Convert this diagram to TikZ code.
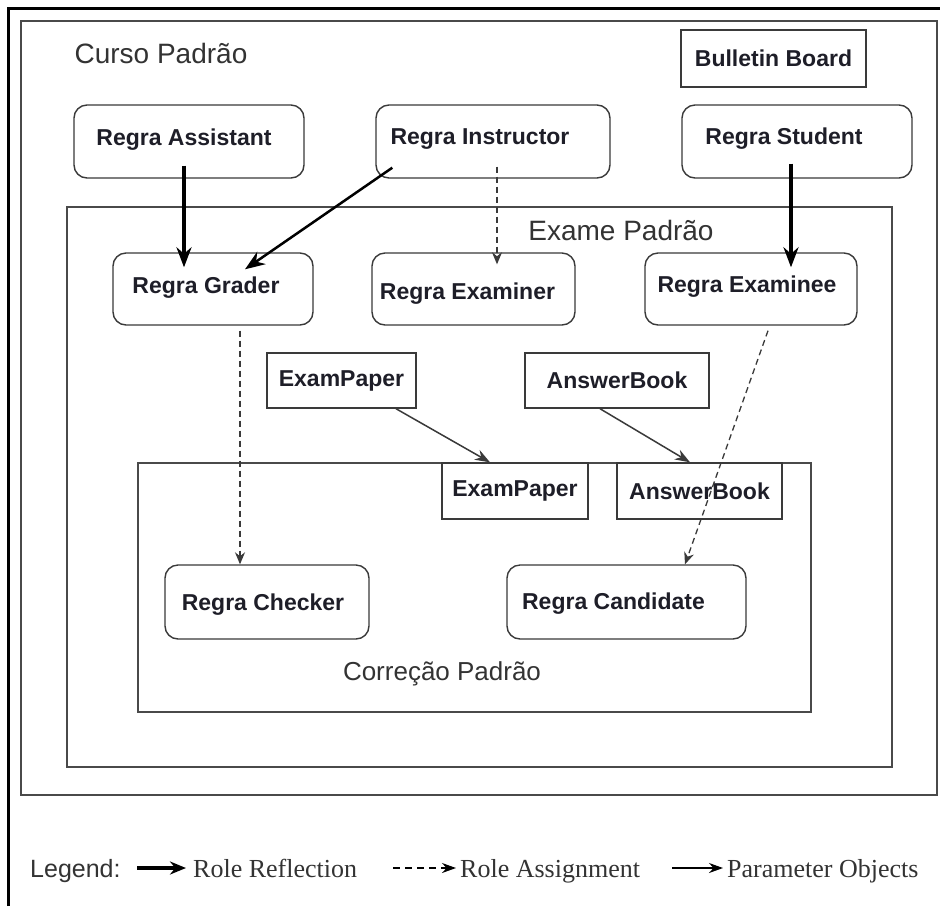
\documentclass[tikz,border=0pt]{standalone}
\usepackage{fontspec}
\setmainfont{Liberation Serif}
\setsansfont{Liberation Sans}
\usetikzlibrary{arrows.meta,calc}
\definecolor{boxc}{HTML}{3A3A3A}
\definecolor{framec}{HTML}{4A4A4A}
\definecolor{txt}{HTML}{1E1E28}
\definecolor{ltxt}{HTML}{333333}
\begin{document}
\begin{tikzpicture}[x=1pt,y=-1pt,
  rbox/.style={draw=boxc, line width=1.4pt, rounded corners=13pt, inner sep=0pt},
  sbox/.style={draw=boxc, line width=1.4pt, inner sep=0pt, font=\sffamily\bfseries\fontsize{23}{25}\selectfont, text=txt},
  lbl/.style={font=\sffamily\bfseries\fontsize{23}{25}\selectfont, text=txt},
  frame/.style={draw=framec, line width=1.6pt},
  flbl/.style={font=\sffamily\fontsize{28}{30}\selectfont, text=ltxt},
  reflect/.style={line width=3.5pt, -{Stealth[length=20pt,width=15pt]}},
  assign/.style={draw=boxc, line width=1.3pt, dash pattern=on 6pt off 4pt, -{Stealth[length=12pt,width=10pt]}},
  param/.style={draw=boxc, line width=1.5pt, -{Stealth[length=15pt,width=11pt]}},
  legtxt/.style={font=\fontsize{26}{28}\selectfont, text=ltxt, anchor=base west, inner sep=0pt}
]
\useasboundingbox (0,0) rectangle (940,906);
\fill[white] (0,0) rectangle (940,906);

% outer frame (top and left)
\draw[line width=3pt] (8,906) -- (8,8) -- (940,8);

% containers
\draw[frame] (21,21) rectangle (937,795);
\draw[frame] (67,207) rectangle (892,767);
\draw[frame] (138,463) rectangle (811,712);

\node[flbl] (curso) at (161,53) {Curso Padrão};
\node[flbl] (exame) at (621,230) {Exame Padrão};
\node[flbl, font=\sffamily\fontsize{26}{28}\selectfont] (correcao) at (442,674) {Correção Padrão};

% boxes
\node[sbox, minimum width=185, minimum height=57] (bulletin) at (773.5,58.5) {Bulletin Board};

\node[rbox, minimum width=230, minimum height=73, label={[lbl,xshift=-5pt,yshift=2pt]center:Regra Assistant}] (assist) at (189,141.5) {};
\node[rbox, minimum width=234, minimum height=73, label={[lbl,xshift=-13pt,yshift=2pt]center:Regra Instructor}] (instr) at (493,141.5) {};
\node[rbox, minimum width=230, minimum height=73, label={[lbl,xshift=-13pt,yshift=3pt]center:Regra Student}] (student) at (797,141.5) {};

\node[rbox, minimum width=200, minimum height=72, label={[lbl,xshift=-7pt,yshift=1pt]center:Regra Grader}] (grader) at (213,289) {};
\node[rbox, minimum width=203, minimum height=72, label={[lbl,xshift=-6pt,yshift=-5pt]center:Regra Examiner}] (examiner) at (473.5,289) {};
\node[rbox, minimum width=212, minimum height=72, label={[lbl,xshift=-4pt,yshift=2pt]center:Regra Examinee}] (examinee) at (751,289) {};

\node[sbox, minimum width=149, minimum height=55] (ep1) at (341.5,380.5) {ExamPaper};
\node[sbox, minimum width=184, minimum height=55] (ab1) at (617,380.5) {AnswerBook};
\node[sbox, minimum width=146, minimum height=56] (ep2) at (515,491) {ExamPaper};
\node[sbox, minimum width=165, minimum height=56] (ab2) at (699.5,491) {AnswerBook};

\node[rbox, minimum width=204, minimum height=74, label={[lbl,xshift=-4pt,yshift=-3pt]center:Regra Checker}] (checker) at (267,602) {};
\node[rbox, minimum width=239, minimum height=74, label={[lbl,xshift=-13pt,yshift=-2pt]center:Regra Candidate}] (cand) at (626.5,602) {};

% connectors
\draw[reflect] ($(assist.south)+(-5,-13)$) -- ($(grader.north)+(-29,15)$);
\draw[reflect, line width=2.5pt] ($(instr.south west)+(17,-11)$) -- ($(grader.north)+(32,17)$);
\draw[assign] ($(instr.south)+(4,-12)$) -- ($(examiner.north)+(23.5,12)$);
\draw[reflect] ($(student.south)+(-6,-15)$) -- ($(examinee.north)+(40,15)$);
\draw[assign] ($(examinee.south)+(17,5)$) -- ($(cand.north)+(58.5,0)$);
\draw[assign] ($(grader.south)+(27,5)$) -- ($(checker.north)+(-27,0)$);
\draw[param] ($(ep1.south)+(54.5,0)$) -- ($(ep2.north)+(-25,0)$);
\draw[param] ($(ab1.south)+(-17,0)$) -- ($(ab2.north)+(-9.5,0)$);

% legend
\node[font=\sffamily\fontsize{25}{27}\selectfont, text=ltxt, anchor=base west, inner sep=0pt] (leg) at (30,877) {Legend:};
\coordinate (l1a) at (137,868); \coordinate (l1b) at (186,868);
\draw[line width=3.5pt, -{Stealth[length=16pt,width=13pt]}] (l1a) -- (l1b);
\node[legtxt] (t1) at (193,877) {Role Reflection};
\coordinate (l2a) at (393,868); \coordinate (l2b) at (456,868);
\draw[line width=1.3pt, dash pattern=on 7pt off 5pt, -{Stealth[length=14pt,width=10pt]}] (l2a) -- (l2b);
\node[legtxt] (t2) at (460,877) {Role Assignment};
\coordinate (l3a) at (672,868); \coordinate (l3b) at (723,868);
\draw[line width=1.3pt, -{Stealth[length=14pt,width=10pt]}] (l3a) -- (l3b);
\node[legtxt] (t3) at (727,877) {Parameter Objects};
\end{tikzpicture}
\end{document}
